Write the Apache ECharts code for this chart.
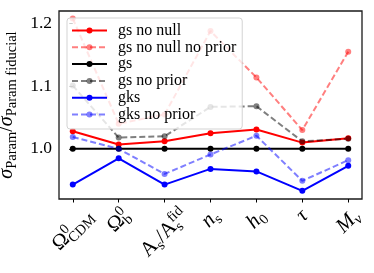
<!DOCTYPE html>
<html>
<head>
<meta charset="utf-8">
<script src="https://cdn.jsdelivr.net/npm/echarts@6/dist/echarts.min.js"></script>
<style>
html,body{margin:0;padding:0;background:#fff;}
#chart{width:374px;height:273px;}
</style>
</head>
<body>
<div id="chart"></div>
<script>
// ---- data ----
const seriesNames = ['gs no null', 'gs no null no prior', 'gs', 'gs no prior', 'gks', 'gks no prior'];
const gsNoNull        = [1.028, 1.007, 1.012, 1.025, 1.031, 1.010, 1.017];
const gsNoNullNoPrior = [1.208, 1.040, 1.055, 1.188, 1.114, 1.030, 1.155];
const gs              = [1.000, 1.000, 1.000, 1.000, 1.000, 1.000, 1.000];
const gsNoPrior       = [1.101, 1.018, 1.020, 1.067, 1.068, 1.012, 1.016];
const gks             = [0.943, 0.985, 0.943, 0.968, 0.964, 0.933, 0.973];
const gksNoPrior      = [1.019, 1.000, 0.960, 0.991, 1.021, 0.949, 0.982];
const yTicks = [1.0, 1.1, 1.2];
// tick labels as token lists: [kind, text]; kind: r roman, i italic, sup, sub, isub, and "+stack" = stacked under/over previous
const categoryLabels = [
  [['r','Ω'],['sup','0'],['sub+stack','CDM']],
  [['r','Ω'],['sup','0'],['sub+stack','b']],
  [['r','A'],['sub','s'],['r','/'],['r','A'],['sub','s'],['sup+stack','fid']],
  [['i','n'],['sub','s']],
  [['i','h'],['sub','0']],
  [['i','τ']],
  [['i','M'],['isub','ν']]
];

// ---- layout ----
const W = 374, GL = 59, GR = 12, GT = 11, GB = 74;
const XMIN = -0.3, XMAX = 6.3;
const step = (W - GL - GR) / (XMAX - XMIN);           // px per category
const labelLeft = GL + (0 - XMIN) * step - step / 2;  // grid for label axis (category centres = ticks)
const labelRight = W - (labelLeft + categoryLabels.length * step);

// ---- label rich text ----
const FONT = '"Liberation Serif", "DejaVu Serif", serif';
const MAIN = 21, SMALL = 14.5;
const ctx = document.createElement('canvas').getContext('2d');
function tw(text, size, italic) {
  ctx.font = (italic ? 'italic ' : '') + size + 'px ' + FONT;
  return ctx.measureText(text).width;
}
const rich = {};
const labelText = [];
categoryLabels.forEach((toks, li) => {
  let parts = '';
  let w = 0, prevW = 0;
  toks.forEach((t, ti) => {
    const kind = t[0].split('+')[0];
    const stack = t[0].indexOf('+stack') >= 0;
    const small = kind !== 'r' && kind !== 'i';
    const italic = kind === 'i' || kind === 'isub';
    const size = small ? SMALL : MAIN;
    const tw0 = tw(t[1], size, italic);
    const st = {
      fontFamily: FONT, fontSize: size, fontStyle: italic ? 'italic' : 'normal',
      color: '#000', lineHeight: small ? (kind === 'sup' ? 14 : 15.5) : 27,
      verticalAlign: kind === 'sup' ? 'top' : (small ? 'bottom' : 'middle')
    };
    if (stack) {
      st.padding = [0, 0, 0, -prevW];
      w += Math.max(0, tw0 - prevW);
    } else {
      w += tw0;
    }
    prevW = tw0;
    const name = 'L' + li + 't' + ti;
    rich[name] = st;
    parts += '{' + name + '|' + t[1] + '}';
  });
  const P = w / 2;
  rich['sp' + li] = { fontSize: 1, lineHeight: P, fontFamily: FONT };
  rich['tr' + li] = { fontSize: 1, width: P, fontFamily: FONT };
  labelText.push('{sp' + li + '| }\n' + parts + '{tr' + li + '| }');
});

const colors = ['#ff0000', 'rgba(255,0,0,0.5)', '#000000', 'rgba(0,0,0,0.5)', '#0000ff', 'rgba(0,0,255,0.5)'];
const dashed = [false, true, false, true, false, true];
const values = [gsNoNull, gsNoNullNoPrior, gs, gsNoPrior, gks, gksNoPrior];

const chart = echarts.init(document.getElementById('chart'), null, { renderer: 'canvas' });
chart.setOption({
  animation: false,
  backgroundColor: '#fff',
  grid: [
    { left: GL, right: GR, top: GT, bottom: GB, containLabel: false, outerBoundsMode: 'none',
      show: true, borderColor: '#1a1a1a', borderWidth: 1.3, backgroundColor: 'transparent' },
    { left: labelLeft, right: labelRight, top: GT, bottom: GB, containLabel: false, outerBoundsMode: 'none', show: false }
  ],
  legend: {
    data: seriesNames, orient: 'vertical', left: 67, top: 18,
    itemWidth: 35, itemHeight: 7.5, itemGap: 0.8,
    padding: [4.5, 6, 6.5, 4],
    backgroundColor: 'rgba(255,255,255,0.8)', borderColor: '#d3d3d3', borderWidth: 1, borderRadius: 3,
    textStyle: { fontFamily: FONT, fontSize: 16, color: '#000', lineHeight: 15, width: 110, padding: [0, 0, 0, 6] },
    selectedMode: false
  },
  xAxis: [
    {
      type: 'value', min: XMIN, max: XMAX, gridIndex: 0,
      axisLine: { show: false }, splitLine: { show: false },
      axisTick: { show: true, length: 3.5, customValues: categoryLabels.map((_, i) => i), lineStyle: { color: '#000', width: 1 } },
      axisLabel: { show: false }
    },
    {
      type: 'category', gridIndex: 1, boundaryGap: true,
      data: categoryLabels.map((_, i) => String(i)),
      axisLine: { show: false }, axisTick: { show: false }, splitLine: { show: false },
      axisLabel: {
        interval: 0, rotate: 45, align: 'center', verticalAlign: 'middle', margin: 14,
        formatter: (v, idx) => labelText[idx], rich: rich
      }
    }
  ],
  yAxis: [
    {
      type: 'value', min: 0.92, max: 1.22, gridIndex: 0,
      axisLine: { show: false }, splitLine: { show: false },
      axisTick: { show: true, length: 3.5, customValues: yTicks, lineStyle: { color: '#000', width: 1 } },
      axisLabel: { customValues: yTicks, margin: 7, fontFamily: FONT, fontSize: 17.5, color: '#000',
                   showMinLabel: true, showMaxLabel: true,
                   formatter: v => v.toFixed(1) },
      name: '{s|σ}{b|Param}{r|/}{s|σ}{b|Param fiducial}',
      nameLocation: 'middle', nameRotate: 90, nameGap: 31,
      nameTextStyle: {
        rich: {
          s: { fontFamily: FONT, fontSize: 20, fontStyle: 'italic', color: '#000', lineHeight: 24, verticalAlign: 'middle' },
          r: { fontFamily: FONT, fontSize: 20, color: '#000', lineHeight: 24, verticalAlign: 'middle' },
          b: { fontFamily: FONT, fontSize: 14.5, color: '#000', lineHeight: 15, verticalAlign: 'bottom' }
        }
      }
    },
    { type: 'value', gridIndex: 1, show: false }
  ],
  series: seriesNames.map((n, k) => ({
    name: n, type: 'line', xAxisIndex: 0, yAxisIndex: 0,
    data: values[k].map((v, i) => [i, v]),
    symbol: 'circle', symbolSize: 6, showSymbol: true,
    itemStyle: { color: colors[k] },
    lineStyle: { color: colors[k], width: 2, type: dashed[k] ? [6, 3] : 'solid' },
    emphasis: { disabled: true }, silent: true
  }))
});
</script>
</body>
</html>
